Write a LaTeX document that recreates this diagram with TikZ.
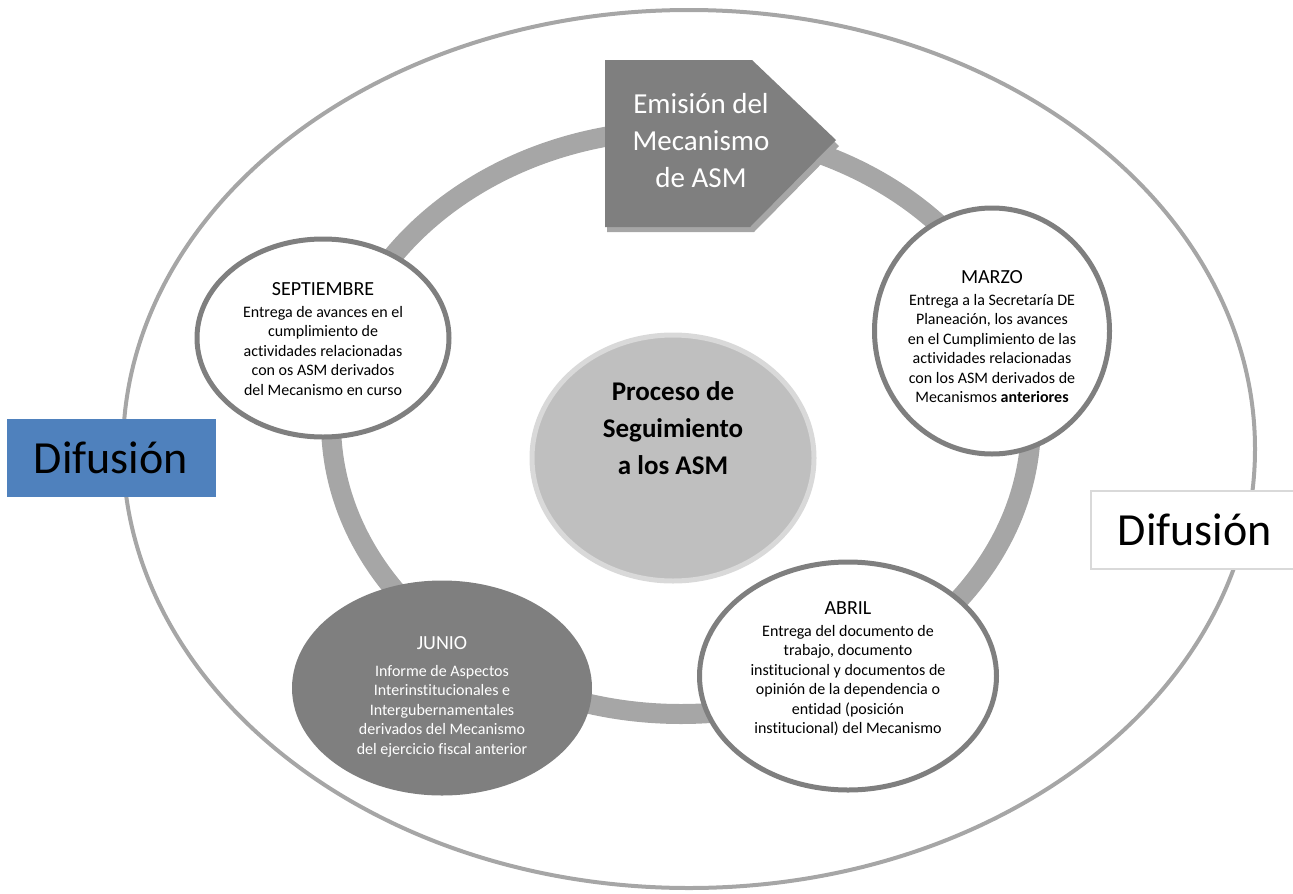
\documentclass[tikz,border=0pt]{standalone}
\usepackage{fontspec}
\setmainfont{Carlito}[Ligatures=NoCommon]
\usetikzlibrary{shapes.geometric}
\definecolor{grisanillo}{HTML}{A6A6A6}
\definecolor{grisborde}{HTML}{7F7F7F}
\definecolor{grisclaro}{HTML}{BFBFBF}
\definecolor{grisfino}{HTML}{D9D9D9}
\definecolor{azuldif}{HTML}{4F81BD}
\newcommand{\titulo}[1]{{\fontsize{20}{20}\selectfont #1}}

\begin{document}
\begin{tikzpicture}[x=1pt,y=-1pt,
        mes/.style={ellipse,draw=grisborde,line width=5pt,fill=white,inner sep=0pt},
        mestexto/.style={align=center,inner sep=0pt,font=\fontsize{16}{19.5}\selectfont},
        difusion/.style={rectangle,minimum width=209,minimum height=78,inner sep=0pt,
                font=\fontsize{46}{46}\selectfont}]
        \useasboundingbox (0,0) rectangle (1293,894);
        \draw[grisanillo,line width=4pt] (689,449) ellipse [x radius=566,y radius=439]; % elipse exterior
        \draw[grisanillo,line width=20pt] (681,422) ellipse [x radius=350,y radius=292]; % anillo
        % emision
        \fill[grisanillo] (607,65) -- (754,65) -- (839,146) -- (754,232) -- (607,232) -- cycle;
        \fill[grisborde] (605,60) -- (752,60) -- (836,140) -- (750,227) -- (605,227) -- cycle;
        \node[white,align=center,font=\fontsize{29}{37}\selectfont] (emision) at (701,141)
                {Emisión del\\ Mecanismo\\ de ASM};
        % meses
        \node[mes,minimum width=252,minimum height=198] (septiembre) at (323,338) {};
        \node[mestexto] (septiembretxt) at (323,339)
                {\titulo{SEPTIEMBRE}\\[2pt] Entrega de avances en el\\ cumplimiento de\\
                actividades relacionadas\\ con os ASM derivados\\ del Mecanismo en curso};
        \node[mes,minimum width=235,minimum height=246] (marzo) at (992,331) {};
        \node[mestexto] (marzotxt) at (992,337)
                {\titulo{MARZO}\\[2pt] Entrega a la Secretaría DE\\ Planeación, los avances\\
                en el Cumplimiento de las\\ actividades relacionadas\\ con los ASM derivados de\\
                Mecanismos \textbf{anteriores}};
        \node[mes,minimum width=297,minimum height=228] (abril) at (848,676) {};
        \node[mestexto] (abriltxt) at (848,669)
                {\titulo{ABRIL}\\[2pt] Entrega del documento de\\ trabajo, documento\\
                institucional y documentos de\\ opinión de la dependencia o\\ entidad (posición\\
                institucional) del Mecanismo};
        \node[mes,draw=none,fill=grisborde,minimum width=300,minimum height=215] (junio) at (442,688) {};
        \node[mestexto,text=white] (juniotxt) at (442,697)
                {\titulo{JUNIO}\\[7pt] Informe de Aspectos\\ Interinstitucionales e\\
                Intergubernamentales\\ derivados del Mecanismo\\ del ejercicio fiscal anterior};
        % centro
        \node[ellipse,fill=grisclaro,draw=grisfino,line width=5pt,minimum width=282,minimum height=246] (centro) at (673,458) {};
        \node[align=center,font=\bfseries\fontsize{27}{37}\selectfont] (proceso) at (673,428)
                {Proceso de\\ Seguimiento\\ a los ASM};
        % difusion
        \node[difusion,fill=azuldif] (difizq) at (111,457.5) {Difusión};
        \node[difusion,draw=grisfino,line width=2pt,fill=white] (difder) at (1195,529.5) {Difusión};
\end{tikzpicture}
\end{document}
